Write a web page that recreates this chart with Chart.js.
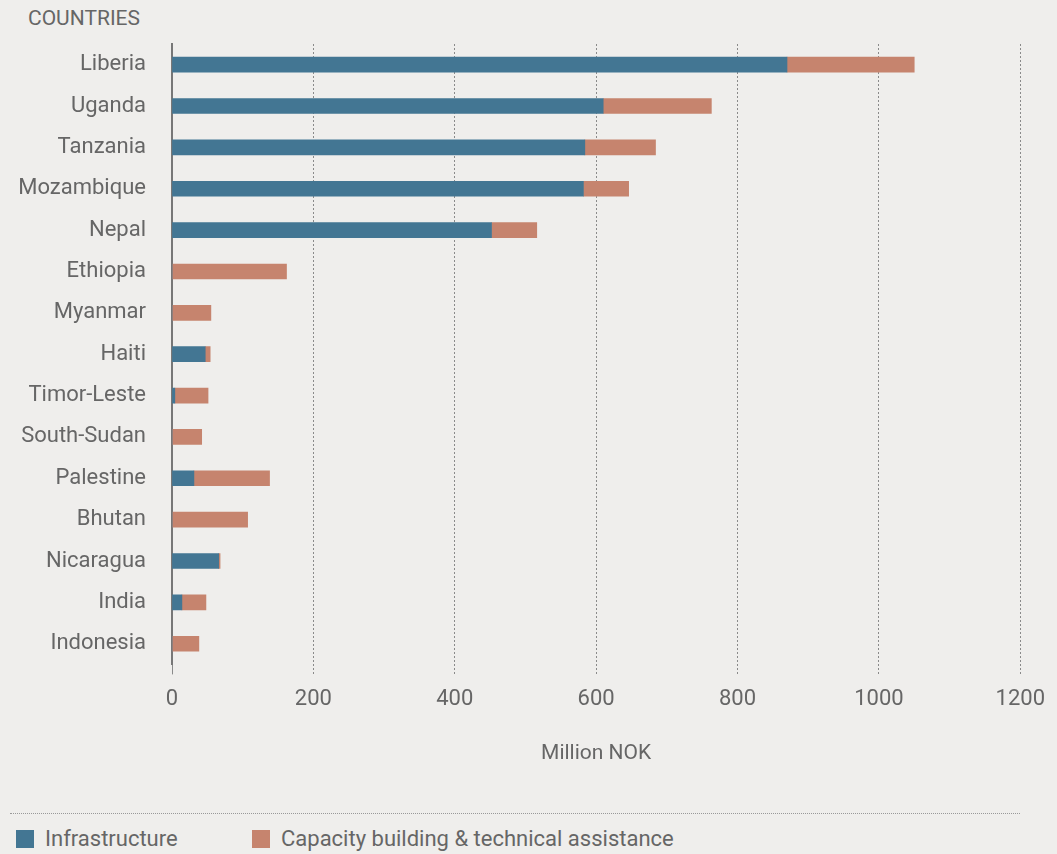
<!DOCTYPE html>
<html>
<head>
<meta charset="utf-8">
<script src="https://cdn.jsdelivr.net/npm/chart.js@4"></script>
<style>
  html, body { margin: 0; padding: 0; background: #efeeec; }
  #wrap { position: relative; width: 1057px; height: 854px; overflow: hidden; font-family: Roboto, sans-serif; color: #666; }
  #title { position: absolute; left: 28px; top: 6px; font-size: 21px; line-height: 24px; }
  #chartBox { position: absolute; left: 0; top: 0; width: 1057px; height: 770px; }
  #rule { position: absolute; left: 10px; top: 813px; width: 1010px; border-top: 1px dotted #999; }
  #legend { position: absolute; left: 16px; top: 828px; display: flex; font-size: 22px; line-height: 22px; }
  .item { display: flex; align-items: center; }
  .item:first-child { width: 236px; }
  .swatch { width: 18px; height: 18px; margin-right: 11px; }
</style>
</head>
<body>
<div id="wrap">
  <div id="title">COUNTRIES</div>
  <div id="chartBox"><canvas id="chart"></canvas></div>
  <div id="rule"></div>
  <div id="legend"></div>
</div>
<script>
const countries = ['Liberia', 'Uganda', 'Tanzania', 'Mozambique', 'Nepal', 'Ethiopia', 'Myanmar', 'Haiti',
  'Timor-Leste', 'South-Sudan', 'Palestine', 'Bhutan', 'Nicaragua', 'India', 'Indonesia'];
const infrastructure = [870, 610, 584, 582, 452, 0, 0, 47, 4, 0, 31, 0, 66, 14, 0];
const capacityBuilding = [180, 153, 100, 64, 64, 162, 55, 7, 47, 42, 107, 107, 2, 34, 38];
const seriesNames = ['Infrastructure', 'Capacity building & technical assistance'];
const seriesColors = ['#437693', '#c6846e'];
const xTicks = [0, 200, 400, 600, 800, 1000, 1200];

document.addEventListener('DOMContentLoaded', function () {
    const ctx = document.getElementById('chart').getContext('2d');
    const textColor = '#666';
    const fontFamily = 'Roboto, sans-serif';

    new Chart(ctx, {
        type: 'bar',
        data: {
            labels: countries,
            datasets: [
                { label: seriesNames[0], data: infrastructure, backgroundColor: seriesColors[0], barThickness: 15 },
                { label: seriesNames[1], data: capacityBuilding, backgroundColor: seriesColors[1], barThickness: 15 }
            ]
        },
        options: {
            indexAxis: 'y',
            responsive: true,
            maintainAspectRatio: false,
            animation: false,
            layout: { padding: { top: 44, right: 36, left: 0, bottom: 4 } },
            plugins: {
                legend: { display: false },
                tooltip: { enabled: false }
            },
            scales: {
                x: {
                    stacked: true,
                    min: 0,
                    max: 1200,
                    afterBuildTicks: function (scale) {
                        scale.ticks = xTicks.map(v => ({ value: v }));
                    },
                    grid: {
                        color: '#8a8a8a',
                        lineWidth: 1,
                        drawTicks: true,
                        tickLength: 10,
                        tickColor: '#8a8a8a',
                        tickBorderDash: c => (c.tick && c.tick.value === 0 ? [] : [2, 2])
                    },
                    border: { display: false, dash: [2, 2] },
                    ticks: {
                        color: textColor,
                        padding: 12,
                        font: { family: fontFamily, size: 22 },
                        maxRotation: 0,
                        callback: v => String(v)
                    },
                    title: {
                        display: true,
                        text: 'Million NOK',
                        color: textColor,
                        font: { family: fontFamily, size: 21 },
                        padding: { top: 16, bottom: 0 }
                    }
                },
                y: {
                    stacked: true,
                    afterFit: function (scale) { scale.width = 172; },
                    grid: { display: false, drawTicks: false },
                    border: { display: true, color: '#777', width: 2 },
                    ticks: {
                        color: textColor,
                        padding: 26,
                        font: { family: fontFamily, size: 22 }
                    }
                }
            }
        }
    });

    const legend = document.getElementById('legend');
    seriesNames.forEach(function (name, i) {
        const item = document.createElement('div');
        item.className = 'item';
        const sw = document.createElement('span');
        sw.className = 'swatch';
        sw.style.background = seriesColors[i];
        const txt = document.createElement('span');
        txt.textContent = name;
        item.appendChild(sw);
        item.appendChild(txt);
        legend.appendChild(item);
    });
});
</script>
</body>
</html>
